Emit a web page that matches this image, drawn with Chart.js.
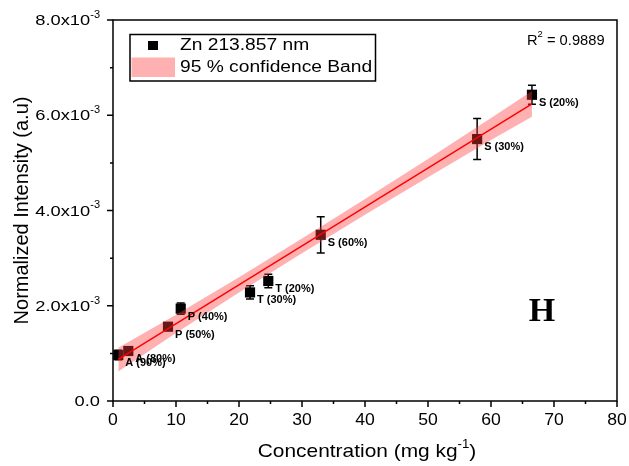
<!DOCTYPE html>
<html><head><meta charset="utf-8">
<script src="https://cdn.jsdelivr.net/npm/chart.js@4/dist/chart.umd.min.js"></script>
<style>html,body{margin:0;padding:0;background:#fff}canvas{display:block}</style>
</head><body>
<canvas id="c" width="629" height="466"></canvas>
<script>
// ---- data ----
const concentration = [0.84, 2.43, 8.73, 10.75, 21.75, 24.65, 32.97, 57.8, 66.5];
const intensity = [0.966e-3, 1.05e-3, 1.56e-3, 1.94e-3, 2.28e-3, 2.52e-3, 3.49e-3, 5.50e-3, 6.43e-3];
const intensityErr = [0.10e-3, 0.05e-3, 0.05e-3, 0.12e-3, 0.14e-3, 0.14e-3, 0.38e-3, 0.43e-3, 0.20e-3];
const pointLabels = ['A (90%)', 'A (80%)', 'P (50%)', 'P (40%)', 'T (30%)', 'T (20%)', 'S (60%)', 'S (30%)', 'S (20%)'];
const fitX = [0.84, 66.5];
const fitY = [0.872e-3, 6.241e-3];
const bandX = [0.84, 10, 20, 30, 40, 50, 60, 66.5];
const bandUpper = [1.12e-3, 1.81e-3, 2.60e-3, 3.41e-3, 4.24e-3, 5.08e-3, 5.94e-3, 6.51e-3];
const bandLower = [0.62e-3, 1.43e-3, 2.28e-3, 3.10e-3, 3.91e-3, 4.70e-3, 5.48e-3, 5.97e-3];
const xTicks = [0, 10, 20, 30, 40, 50, 60, 70, 80];
const xMinorTicks = [5, 15, 25, 35, 45, 55, 65, 75];
const yTicks = [0, 2e-3, 4e-3, 6e-3, 8e-3];
const yTickMantissa = ['0.0', '2.0x10', '4.0x10', '6.0x10', '8.0x10'];
const yTickExponent = ['', '-3', '-3', '-3', '-3'];
const yMinorTicks = [1e-3, 3e-3, 5e-3, 7e-3];
const seriesName = 'Zn 213.857 nm';
const bandName = '95 % confidence Band';
const r2Text = '0.9889';
const panelLetter = 'H';

const FONT = '"Liberation Sans", Arial, sans-serif';
const bandColor = 'rgba(255,60,60,0.4)';

function zip(xs, ys) { return xs.map((x, i) => ({x: x, y: ys[i]})); }

function txt(ctx, s, x, y, size, align, opt) {
  opt = opt || {};
  ctx.save();
  ctx.font = (opt.weight || 'normal') + ' ' + size + 'px ' + (opt.family || FONT);
  ctx.fillStyle = '#000';
  ctx.translate(x, y);
  if (opt.rot) ctx.rotate(opt.rot);
  ctx.scale(opt.sx || 1, 1);
  ctx.textAlign = align;
  ctx.textBaseline = opt.base || 'middle';
  ctx.fillText(s, 0, 0);
  ctx.restore();
}
function tw(ctx, s, size, opt) {
  opt = opt || {};
  ctx.save();
  ctx.font = (opt.weight || 'normal') + ' ' + size + 'px ' + (opt.family || FONT);
  const w = ctx.measureText(s).width * (opt.sx || 1);
  ctx.restore();
  return w;
}

const decor = {
  id: 'decor',
  beforeDatasetsDraw(chart) {
    const ctx = chart.ctx, xs = chart.scales.x, ys = chart.scales.y;
    ctx.save();
    ctx.strokeStyle = '#000';
    ctx.lineWidth = 1.5;
    concentration.forEach((cx, i) => {
      const px = xs.getPixelForValue(cx);
      const top = ys.getPixelForValue(intensity[i] + intensityErr[i]);
      const bot = ys.getPixelForValue(intensity[i] - intensityErr[i]);
      ctx.beginPath();
      ctx.moveTo(px, top); ctx.lineTo(px, bot);
      ctx.moveTo(px - 4, top); ctx.lineTo(px + 4, top);
      ctx.moveTo(px - 4, bot); ctx.lineTo(px + 4, bot);
      ctx.stroke();
    });
    ctx.restore();
  },
  afterDraw(chart) {
    const ctx = chart.ctx, xs = chart.scales.x, ys = chart.scales.y, a = chart.chartArea;
    ctx.save();
    // frame
    ctx.strokeStyle = '#000';
    ctx.lineWidth = 1.5;
    ctx.strokeRect(a.left, a.top, a.right - a.left, a.bottom - a.top);
    // ticks
    ctx.beginPath();
    xTicks.forEach(v => { const p = xs.getPixelForValue(v); ctx.moveTo(p, a.bottom); ctx.lineTo(p, a.bottom + 6); });
    xMinorTicks.forEach(v => { const p = xs.getPixelForValue(v); ctx.moveTo(p, a.bottom); ctx.lineTo(p, a.bottom + 3); });
    yTicks.forEach(v => { const p = ys.getPixelForValue(v); ctx.moveTo(a.left, p); ctx.lineTo(a.left - 6, p); });
    yMinorTicks.forEach(v => { const p = ys.getPixelForValue(v); ctx.moveTo(a.left, p); ctx.lineTo(a.left - 3, p); });
    ctx.stroke();
    // x labels
    xTicks.forEach(v => txt(ctx, String(v), xs.getPixelForValue(v), a.bottom + 20, 16, 'center', {sx: 1.1}));
    // y labels
    yTicks.forEach((v, i) => {
      const p = ys.getPixelForValue(v);
      const right = a.left - 13;
      const ew = yTickExponent[i] ? tw(ctx, yTickExponent[i], 10, {sx: 1.1}) : 0;
      txt(ctx, yTickMantissa[i], right - ew, p + 1, 15, 'right', {sx: 1.22});
      if (yTickExponent[i]) txt(ctx, yTickExponent[i], right - ew, p - 5, 10, 'left', {sx: 1.1});
    });
    // x title
    {
      const main = 'Concentration (mg kg', sup = '-1', end = ')';
      const s1 = 19, s2 = 12, sx = 1.1;
      const w1 = tw(ctx, main, s1, {sx}), w2 = tw(ctx, sup, s2, {sx}), w3 = tw(ctx, end, s1, {sx});
      const cx = (a.left + a.right) / 2 + 2;
      let x0 = cx - (w1 + w2 + w3) / 2;
      txt(ctx, main, x0, 452, s1, 'left', {sx});
      txt(ctx, sup, x0 + w1, 445, s2, 'left', {sx});
      txt(ctx, end, x0 + w1 + w2, 452, s1, 'left', {sx});
    }
    // y title
    txt(ctx, 'Normalized Intensity (a.u)', 22, (a.top + a.bottom) / 2, 20, 'center', {rot: -Math.PI / 2});
    // point labels
    concentration.forEach((cx, i) => {
      txt(ctx, pointLabels[i], xs.getPixelForValue(cx) + 7, ys.getPixelForValue(intensity[i]) + 8, 11, 'left', {weight: 'bold'});
    });
    // legend
    ctx.strokeStyle = '#000';
    ctx.lineWidth = 1.5;
    ctx.strokeRect(130, 34.5, 245.5, 46.5);
    ctx.fillStyle = '#000';
    ctx.fillRect(148, 41, 10, 9);
    ctx.fillStyle = 'rgb(255,177,177)';
    ctx.fillRect(131.5, 57.5, 43.5, 19.5);
    txt(ctx, seriesName, 180, 46, 16, 'left', {sx: 1.2});
    txt(ctx, bandName, 180, 68, 16, 'left', {sx: 1.2});
    // R^2
    {
      const x0 = 527, sx = 1.05;
      txt(ctx, 'R', x0, 41, 14, 'left', {sx});
      const wR = tw(ctx, 'R', 14, {sx});
      txt(ctx, '2', x0 + wR, 35, 9, 'left', {sx});
      txt(ctx, ' = ' + r2Text, x0 + wR + tw(ctx, '2', 9, {sx}), 41, 14, 'left', {sx});
    }
    // panel letter
    txt(ctx, panelLetter, 542, 312, 34, 'center', {weight: 'bold', family: '"Liberation Serif", "Times New Roman", serif'});
    ctx.restore();
  }
};

new Chart(document.getElementById('c'), {
  type: 'scatter',
  data: {
    datasets: [
      {
        label: 'fit', type: 'line', data: zip(fitX, fitY), order: 1,
        borderColor: '#ff0000', borderWidth: 1.5, pointRadius: 0, fill: false
      },
      {
        label: bandName + ' upper', type: 'line', data: zip(bandX, bandUpper), order: 2,
        borderWidth: 0, borderColor: 'rgba(0,0,0,0)', pointRadius: 0,
        backgroundColor: bandColor, fill: '+1'
      },
      {
        label: bandName + ' lower', type: 'line', data: zip(bandX, bandLower), order: 2,
        borderWidth: 0, borderColor: 'rgba(0,0,0,0)', pointRadius: 0, fill: false
      },
      {
        label: seriesName, data: zip(concentration, intensity), order: 3,
        pointStyle: 'rect', pointRadius: 7.2, backgroundColor: '#000', borderColor: '#000', borderWidth: 0
      }
    ]
  },
  options: {
    responsive: false,
    animation: false,
    devicePixelRatio: 1,
    layout: {padding: {left: 105, top: 20, right: 12, bottom: 57}},
    plugins: {legend: {display: false}, tooltip: {enabled: false}},
    scales: {
      x: {
        type: 'linear', min: 0, max: 80,
        grid: {display: false}, border: {display: false},
        ticks: {display: false}, title: {display: false}
      },
      y: {
        type: 'linear', min: 0, max: 8e-3,
        grid: {display: false}, border: {display: false},
        ticks: {display: false}, title: {display: false}
      }
    }
  },
  plugins: [decor]
});
</script>
</body></html>
